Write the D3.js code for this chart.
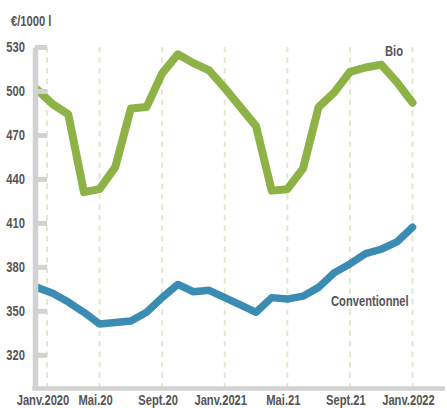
<!DOCTYPE html>
<html>
<head>
<meta charset="utf-8">
<script src="https://cdn.jsdelivr.net/npm/d3@7"></script>
<style>
  body { margin: 0; background: #fff; }
  text { font-family: "Liberation Sans", Arial, sans-serif; font-weight: bold; fill: #555; }
</style>
</head>
<body>
<div id="chart"></div>
<script>
// monthly data, Jan 2020 -> Jan 2022
var months = ["2020-01","2020-02","2020-03","2020-04","2020-05","2020-06","2020-07","2020-08","2020-09","2020-10","2020-11","2020-12",
              "2021-01","2021-02","2021-03","2021-04","2021-05","2021-06","2021-07","2021-08","2021-09","2021-10","2021-11","2021-12",
              "2022-01"];
var bio = [501, 491, 484, 431, 433, 448, 488, 489, 512, 525, 519, 514,
           502, 489, 476, 432, 433, 447, 489, 499, 513, 516, 518, 506,
           492];
var conventionnel = [366, 362, 356, 349, 341, 342, 343, 349, 359, 368, 363, 364,
                     359, 354, 349, 359, 358, 360, 366, 376, 382, 389, 392, 397,
                     407];

var tickMonths = ["2020-01","2020-05","2020-09","2021-01","2021-05","2021-09","2022-01"];
var tickLabels = ["Janv.2020","Mai.20","Sept.20","Janv.2021","Mai.21","Sept.21","Janv.2022"];
var yTicks = [320, 350, 380, 410, 440, 470, 500, 530];

var svgWidth = 447;
var svgHeight = 408;
var axisX = 35;      // y axis position
var axisY = 388.5;   // x axis position
var tickLen = 12;
var squeeze = 0.8;   // condensed look for the labels

var svg = d3.select("#chart")
    .append("svg")
    .attr("width", svgWidth)
    .attr("height", svgHeight);

// condensed text: move x,y into a transform and squeeze horizontally
function addText(parent, tx, ty, anchor, str) {
    return parent.append("text")
        .attr("transform", `translate(${tx}, ${ty}) scale(${squeeze}, 1)`)
        .attr("text-anchor", anchor)
        .style("font-size", "14px")
        .text(str);
}

var x = d3.scalePoint()
    .domain(months)
    .range([37, 412.5]);

var y = d3.scaleLinear()
    .domain([297, 530])
    .range([axisY, 47]);

// dashed vertical grid lines
function gridX(m) {
    return Math.max(x(m), axisX + tickLen);
}

svg.append("g")
    .selectAll("line")
    .data(tickMonths)
    .enter()
    .append("line")
    .attr("x1", d => gridX(d))
    .attr("x2", d => gridX(d))
    .attr("y1", y(530))
    .attr("y2", axisY)
    .attr("stroke", "#e4e8cc")
    .attr("stroke-width", 2)
    .attr("stroke-dasharray", "5.5,5");

// lines
var line = d3.line()
    .x((d, i) => x(months[i]))
    .y(d => y(d));

svg.append("path")
    .datum(bio)
    .attr("d", line)
    .attr("fill", "none")
    .attr("stroke", "#8db245")
    .attr("stroke-width", 8)
    .attr("stroke-linejoin", "round")
    .attr("stroke-linecap", "round");

svg.append("path")
    .datum(conventionnel)
    .attr("d", line)
    .attr("fill", "none")
    .attr("stroke", "#3a8cb3")
    .attr("stroke-width", 7.5)
    .attr("stroke-linejoin", "round")
    .attr("stroke-linecap", "round");

// y axis
var leftAxis = d3.axisLeft(y)
    .tickValues(yTicks)
    .tickSizeInner(-tickLen)
    .tickSizeOuter(0)
    .tickFormat("");

var yAxis = svg.append("g")
    .attr("transform", `translate(${axisX}, 0)`)
    .call(leftAxis);

yAxis.select(".domain")
    .attr("stroke", "#d2d2d2")
    .attr("stroke-width", 5.5);
yAxis.selectAll(".tick line")
    .attr("stroke", "#d2d2d2")
    .attr("stroke-width", 5);

// y tick labels
var yLabels = svg.append("g");
yTicks.forEach(function(v) {
    addText(yLabels, axisX - 10, y(v) + 5, "end", v);
});

// x axis baseline
svg.append("line")
    .attr("x1", axisX - 2.75)
    .attr("x2", 445)
    .attr("y1", axisY)
    .attr("y2", axisY)
    .attr("stroke", "#d2d2d2")
    .attr("stroke-width", 4.5);

// x tick labels
var xLabels = svg.append("g");
tickMonths.forEach(function(m, i) {
    addText(xLabels, gridX(m) - 4, 404.5, "middle", tickLabels[i]);
});

// unit
addText(svg, 11, 26, "start", "€/1000 l");

// series labels
addText(svg, 385, 56, "start", "Bio");
addText(svg, 331, 306, "start", "Conventionnel");
</script>
</body>
</html>
